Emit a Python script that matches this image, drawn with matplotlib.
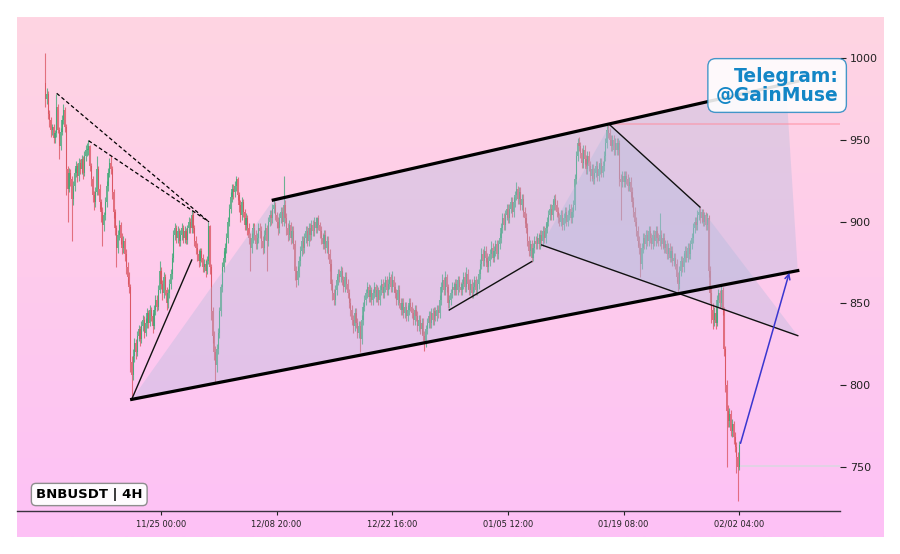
import numpy as np
import pandas as pd
import matplotlib
matplotlib.use("Agg")
import matplotlib.pyplot as plt
from matplotlib.patches import Polygon

# ---------------- data ----------------
symbol_label = "BNBUSDT | 4H"
promo_label = "Telegram:\n@GainMuse"
start_time = "2025-11-11 04:00"
tick_labels = ["11/25 00:00", "12/08 20:00", "12/22 16:00",
               "01/05 12:00", "01/19 08:00", "02/02 04:00"]
y_ticks = [750, 800, 850, 900, 950, 1000]

opens = [
    985, 975, 978, 966, 962, 956, 958, 951, 954, 970,
    956, 946, 955, 962, 968, 958, 932, 920, 930, 926,
    914, 922, 930, 934, 928, 936, 932, 938, 930, 940,
    944, 944, 946, 934, 926, 916, 912, 918, 932, 920,
    912, 906, 898, 904, 912, 922, 930, 936, 932, 918,
    906, 896, 884, 892, 898, 890, 884, 888, 880, 872,
    866, 860, 814, 806, 818, 826, 820, 830, 834, 828,
    836, 840, 832, 838, 844, 838, 846, 842, 836, 846,
    852, 848, 858, 870, 862, 856, 866, 858, 850, 856,
    862, 868, 878, 892, 896, 890, 894, 888, 892, 896,
    890, 894, 889, 896, 900, 896, 904, 896, 888, 884,
    880, 876, 882, 878, 872, 874, 870, 876, 897, 872,
    845, 830, 820, 812, 822, 832, 845, 860, 872, 878,
    884, 890, 900, 908, 915, 920, 918, 922, 926, 916,
    910, 904, 912, 906, 898, 902, 896, 890, 884, 890,
    896, 892, 886, 890, 896, 894, 888, 884, 892, 896,
    888, 900, 904, 902, 908, 910, 904, 900, 896, 902,
    906, 900, 910, 902, 896, 892, 898, 890, 894, 886,
    870, 864, 870, 876, 882, 888, 884, 890, 894, 888,
    896, 892, 898, 894, 900, 896, 902, 898, 894, 890,
    886, 892, 884, 888, 880, 874, 862, 856, 852, 858,
    864, 868, 866, 870, 864, 860, 866, 862, 856, 850,
    846, 840, 836, 844, 838, 832, 836, 828, 840, 848,
    852, 856, 860, 854, 858, 852, 856, 860, 854, 858,
    852, 858, 862, 856, 860, 864, 858, 862, 866, 860,
    864, 860, 856, 852, 858, 850, 846, 850, 844, 848,
    842, 846, 850, 848, 844, 840, 846, 842, 836, 840,
    834, 838, 830, 826, 834, 838, 842, 838, 844, 840,
    845, 842, 846, 844, 852, 860, 864, 858, 866, 860,
    850, 852, 856, 860, 858, 862, 858, 864, 860, 858,
    862, 866, 860, 868, 862, 858, 862, 856, 860, 864,
    858, 862, 868, 874, 880, 876, 882, 878, 872, 876,
    880, 884, 878, 882, 886, 880, 886, 890, 896, 902,
    898, 904, 908, 902, 908, 912, 906, 912, 916, 920,
    914, 918, 910, 914, 906, 902, 896, 888, 882, 886,
    878, 884, 888, 886, 890, 886, 892, 888, 894, 890,
    896, 900, 904, 908, 904, 910, 914, 910, 906, 902,
    900, 904, 898, 902, 906, 900, 904, 908, 902, 906,
    910, 926, 940, 948, 946, 942, 936, 944, 938, 932,
    940, 934, 928, 932, 926, 930, 934, 928, 932, 936,
    930, 934, 940, 948, 956, 954, 950, 946, 950, 944,
    948, 944, 948, 926, 924, 928, 924, 928, 926, 922,
    924, 918, 912, 906, 900, 894, 888, 884, 874, 884,
    890, 886, 892, 888, 894, 890, 886, 892, 888, 894,
    890, 888, 892, 886, 890, 884, 886, 880, 884, 878,
    882, 876, 878, 874, 866, 862, 870, 876, 872, 878,
    882, 878, 884, 880, 886, 890, 896, 900, 898, 904,
    906, 902, 906, 900, 904, 898, 902, 870, 856, 846,
    840, 844, 838, 852, 856, 850, 858, 846, 822, 800,
    784, 778, 782, 772, 776, 768, 762, 756, 750,
]
highs = [
    1003, 982, 980, 968, 964, 960, 960, 956, 978, 972,
    958, 957, 965, 972, 970, 960, 934, 933, 932, 928,
    925, 933, 937, 936, 939, 938, 941, 940, 943, 947,
    948, 950, 947, 936, 928, 919, 921, 940, 934, 923,
    914, 909, 906, 915, 925, 933, 939, 940, 934, 920,
    908, 898, 895, 901, 900, 893, 891, 890, 883, 875,
    869, 862, 818, 822, 829, 828, 833, 837, 836, 839,
    843, 842, 841, 847, 846, 849, 848, 844, 849, 855,
    855, 861, 876, 872, 864, 869, 868, 860, 859, 865,
    871, 881, 895, 899, 898, 897, 896, 895, 899, 898,
    897, 896, 898, 903, 902, 907, 906, 898, 891, 887,
    883, 884, 884, 880, 877, 877, 879, 900, 898, 874,
    848, 833, 824, 825, 835, 848, 862, 875, 882, 887,
    893, 903, 911, 918, 923, 923, 925, 928, 927, 918,
    913, 915, 914, 908, 905, 904, 899, 893, 893, 899,
    899, 895, 893, 899, 899, 897, 891, 895, 899, 898,
    903, 907, 907, 911, 913, 912, 906, 903, 905, 909,
    909, 928, 913, 905, 899, 901, 900, 897, 897, 889,
    873, 873, 879, 885, 891, 891, 893, 897, 897, 899,
    899, 901, 901, 903, 903, 903, 904, 900, 897, 893,
    895, 895, 891, 891, 883, 877, 865, 859, 861, 867,
    871, 871, 873, 872, 867, 869, 869, 865, 859, 853,
    849, 843, 847, 847, 841, 839, 839, 843, 851, 855,
    859, 863, 862, 861, 860, 859, 863, 862, 861, 860,
    861, 865, 865, 863, 867, 867, 865, 869, 868, 870,
    867, 863, 859, 861, 861, 853, 853, 853, 851, 851,
    849, 853, 853, 851, 847, 849, 849, 845, 843, 843,
    841, 841, 833, 837, 841, 845, 845, 847, 847, 848,
    848, 849, 849, 855, 863, 868, 866, 870, 868, 862,
    855, 859, 863, 863, 865, 865, 867, 867, 863, 865,
    869, 869, 872, 871, 865, 865, 865, 863, 867, 867,
    865, 871, 877, 884, 883, 885, 885, 881, 879, 883,
    888, 887, 885, 889, 889, 889, 893, 899, 905, 905,
    907, 911, 911, 911, 915, 915, 915, 919, 924, 922,
    921, 921, 917, 917, 909, 905, 899, 891, 889, 889,
    887, 891, 891, 893, 893, 895, 895, 897, 897, 899,
    903, 907, 911, 911, 913, 916, 917, 913, 909, 905,
    907, 907, 905, 909, 909, 907, 911, 911, 909, 913,
    929, 943, 951, 952, 949, 945, 947, 947, 941, 943,
    943, 937, 935, 935, 933, 937, 937, 935, 939, 939,
    937, 943, 951, 959, 959, 957, 953, 953, 953, 951,
    951, 951, 950, 929, 931, 931, 931, 931, 929, 927,
    927, 921, 915, 909, 903, 897, 891, 887, 887, 893,
    893, 895, 895, 897, 897, 893, 895, 895, 897, 897,
    893, 905, 895, 893, 893, 889, 889, 887, 887, 885,
    885, 881, 881, 877, 869, 873, 879, 879, 881, 885,
    885, 887, 887, 889, 893, 899, 903, 903, 907, 909,
    909, 908, 908, 906, 906, 905, 904, 873, 860, 850,
    848, 847, 855, 859, 858, 861, 860, 848, 824, 803,
    788, 786, 785, 779, 778, 771, 765, 759, 766,
]
lows = [
    970, 972, 963, 958, 952, 953, 948, 948, 952, 954,
    938, 944, 953, 960, 955, 916, 900, 918, 922, 888,
    910, 919, 927, 924, 925, 929, 929, 926, 928, 937,
    940, 941, 931, 922, 912, 907, 909, 916, 916, 908,
    900, 885, 894, 901, 909, 919, 927, 929, 914, 902,
    892, 872, 881, 889, 886, 880, 881, 876, 868, 862,
    856, 808, 791, 803, 814, 816, 818, 827, 824, 826,
    833, 829, 830, 835, 835, 836, 839, 832, 834, 843,
    845, 846, 856, 859, 852, 853, 855, 846, 847, 853,
    859, 865, 875, 889, 887, 887, 885, 885, 889, 887,
    887, 886, 886, 893, 893, 893, 893, 885, 880, 876,
    872, 873, 875, 869, 869, 866, 868, 874, 868, 840,
    826, 815, 801, 808, 819, 829, 842, 857, 869, 875,
    881, 887, 897, 905, 912, 914, 915, 919, 913, 906,
    900, 901, 903, 895, 895, 892, 886, 870, 881, 887,
    889, 883, 883, 887, 890, 884, 880, 881, 889, 870,
    885, 897, 898, 899, 905, 901, 896, 892, 893, 899,
    897, 897, 899, 892, 888, 889, 886, 887, 883, 864,
    860, 861, 866, 873, 879, 880, 881, 887, 885, 885,
    888, 889, 891, 891, 893, 893, 895, 890, 886, 883,
    883, 881, 881, 877, 870, 858, 852, 849, 849, 855,
    861, 863, 863, 861, 857, 857, 859, 853, 847, 842,
    837, 832, 833, 835, 829, 829, 820, 825, 837, 845,
    849, 853, 851, 851, 849, 849, 853, 851, 851, 849,
    849, 855, 853, 853, 857, 855, 855, 859, 857, 857,
    857, 853, 849, 849, 847, 843, 843, 841, 841, 839,
    839, 843, 845, 841, 837, 837, 839, 833, 833, 831,
    831, 827, 821, 823, 831, 835, 835, 835, 837, 837,
    839, 839, 841, 841, 849, 857, 855, 855, 857, 847,
    847, 849, 853, 855, 855, 855, 855, 857, 855, 855,
    859, 857, 857, 859, 855, 855, 853, 853, 857, 855,
    855, 859, 865, 871, 873, 873, 875, 869, 869, 873,
    877, 875, 875, 879, 877, 877, 883, 887, 893, 895,
    895, 901, 899, 899, 905, 903, 903, 909, 913, 911,
    911, 907, 907, 903, 899, 893, 885, 879, 879, 875,
    876, 881, 883, 883, 883, 883, 885, 885, 887, 887,
    893, 897, 901, 901, 901, 907, 907, 903, 899, 897,
    897, 895, 895, 899, 897, 897, 901, 899, 899, 903,
    907, 923, 937, 943, 939, 933, 933, 935, 929, 929,
    931, 925, 925, 923, 923, 927, 925, 925, 929, 927,
    927, 931, 937, 945, 951, 947, 943, 943, 941, 941,
    941, 941, 922, 901, 921, 921, 921, 923, 919, 919,
    915, 909, 903, 897, 891, 885, 880, 866, 871, 881,
    883, 883, 885, 885, 887, 883, 883, 885, 885, 887,
    885, 885, 883, 883, 881, 881, 877, 877, 875, 875,
    873, 873, 871, 863, 857, 859, 867, 869, 869, 875,
    875, 875, 877, 877, 883, 887, 893, 895, 895, 901,
    899, 899, 897, 897, 895, 895, 866, 850, 838, 834,
    836, 834, 836, 848, 847, 848, 843, 818, 796, 750,
    774, 774, 769, 768, 764, 759, 746, 729, 748,
]
closes = [
    975, 978, 966, 962, 956, 958, 951, 954, 970, 956,
    946, 955, 962, 968, 958, 932, 920, 930, 926, 914,
    922, 930, 934, 928, 936, 932, 938, 930, 940, 944,
    944, 946, 934, 926, 916, 912, 918, 932, 920, 912,
    906, 898, 904, 912, 922, 930, 936, 932, 918, 906,
    896, 884, 892, 898, 890, 884, 888, 880, 872, 866,
    860, 814, 806, 818, 826, 820, 830, 834, 828, 836,
    840, 832, 838, 844, 838, 846, 842, 836, 846, 852,
    848, 858, 870, 862, 856, 866, 858, 850, 856, 862,
    868, 878, 892, 896, 890, 894, 888, 892, 896, 890,
    894, 889, 896, 900, 896, 904, 896, 888, 884, 880,
    876, 882, 878, 872, 874, 870, 876, 897, 872, 845,
    830, 820, 812, 822, 832, 845, 860, 872, 878, 884,
    890, 900, 908, 915, 920, 918, 922, 926, 916, 910,
    904, 912, 906, 898, 902, 896, 890, 884, 890, 896,
    892, 886, 890, 896, 894, 888, 884, 892, 896, 888,
    900, 904, 902, 908, 910, 904, 900, 896, 902, 906,
    900, 910, 902, 896, 892, 898, 890, 894, 886, 870,
    864, 870, 876, 882, 888, 884, 890, 894, 888, 896,
    892, 898, 894, 900, 896, 902, 898, 894, 890, 886,
    892, 884, 888, 880, 874, 862, 856, 852, 858, 864,
    868, 866, 870, 864, 860, 866, 862, 856, 850, 846,
    840, 836, 844, 838, 832, 836, 828, 840, 848, 852,
    856, 860, 854, 858, 852, 856, 860, 854, 858, 852,
    858, 862, 856, 860, 864, 858, 862, 866, 860, 864,
    860, 856, 852, 858, 850, 846, 850, 844, 848, 842,
    846, 850, 848, 844, 840, 846, 842, 836, 840, 834,
    838, 830, 826, 834, 838, 842, 838, 844, 840, 845,
    842, 846, 844, 852, 860, 864, 858, 866, 860, 850,
    852, 856, 860, 858, 862, 858, 864, 860, 858, 862,
    866, 860, 868, 862, 858, 862, 856, 860, 864, 858,
    862, 868, 874, 880, 876, 882, 878, 872, 876, 880,
    884, 878, 882, 886, 880, 886, 890, 896, 902, 898,
    904, 908, 902, 908, 912, 906, 912, 916, 920, 914,
    918, 910, 914, 906, 902, 896, 888, 882, 886, 878,
    884, 888, 886, 890, 886, 892, 888, 894, 890, 896,
    900, 904, 908, 904, 910, 914, 910, 906, 902, 900,
    904, 898, 902, 906, 900, 904, 908, 902, 906, 910,
    926, 940, 948, 946, 942, 936, 944, 938, 932, 940,
    934, 928, 932, 926, 930, 934, 928, 932, 936, 930,
    934, 940, 948, 956, 954, 950, 946, 950, 944, 948,
    944, 948, 926, 924, 928, 924, 928, 926, 922, 924,
    918, 912, 906, 900, 894, 888, 884, 874, 884, 890,
    886, 892, 888, 894, 890, 886, 892, 888, 894, 890,
    888, 892, 886, 890, 884, 886, 880, 884, 878, 882,
    876, 878, 874, 866, 862, 870, 876, 872, 878, 882,
    878, 884, 880, 886, 890, 896, 900, 898, 904, 906,
    902, 906, 900, 904, 898, 902, 870, 856, 846, 840,
    844, 838, 852, 856, 850, 858, 846, 822, 800, 784,
    778, 782, 772, 776, 768, 762, 756, 750, 763,
]

# analyst drawings: (candle index, price) pairs
dashed_line_1 = [(8.2, 978.5), (117.5, 899.8)]
dashed_line_2 = [(31.1, 949.5), (117.5, 899.8)]
rise_line_1 = [(62.0, 791.2), (105.1, 876.5)]
rise_line_2 = [(289.9, 845.9), (349.0, 875.5)]
channel_lower = [(62.0, 791.2), (540.0, 870.0)]
channel_upper = [(163.6, 913.2), (540.0, 985.9)]
channel_zone = [(62.0, 791.2), (163.6, 913.2), (531.5, 984.3), (540.0, 870.0)]
fall_top = [(405.2, 959.1), (469.8, 908.9)]
fall_bottom = [(356.2, 885.7), (540.0, 830.2)]
fall_zone = [(356.2, 885.7), (405.2, 959.1), (469.8, 908.9), (540.0, 830.2)]
target_arrow = [(498.9, 764.3), (533.9, 868.7)]
high_level = (404.0, 959.6)
low_level = (498.5, 750.4)

# ---------------- figure ----------------
W, H = 900, 554
fig = plt.figure(figsize=(W / 100, H / 100), dpi=100)
fig.patch.set_facecolor("white")

# gradient panel
bg = fig.add_axes([17 / W, 17 / H, 867 / W, 520 / H], zorder=0)
top_c = np.array([255, 213, 226]) / 255.0
bot_c = np.array([253, 193, 246]) / 255.0
t = np.linspace(0, 1, 256)[:, None, None]
grad = top_c[None, None, :] * (1 - t) + bot_c[None, None, :] * t
bg.imshow(grad, aspect="auto", extent=[0, 1, 0, 1])
bg.set_axis_off()

ax = fig.add_axes([17 / W, 43 / H, 823 / W, 494 / H], zorder=1)
ax.patch.set_alpha(0)

o = np.array(opens, float)
h = np.array(highs, float)
l = np.array(lows, float)
c = np.array(closes, float)
n = len(c)
x = np.arange(n)
times = pd.date_range(start_time, periods=n, freq="4h")

up_col = "#3aa874"
dn_col = "#d9505c"
cols = np.where(c >= o, up_col, dn_col)
ax.vlines(x, l, h, colors=cols, linewidth=0.8, alpha=0.75, zorder=2)
body_h = np.maximum(np.abs(c - o), 0.5)
ax.bar(x, body_h, bottom=np.minimum(o, c), width=0.8, color=cols,
       alpha=0.75, linewidth=0, zorder=2)

zone_col = "#a9b9dc"
ax.add_patch(Polygon(channel_zone, closed=True, facecolor=zone_col,
                     alpha=0.32, edgecolor="none", zorder=3))
ax.add_patch(Polygon(fall_zone, closed=True, facecolor=zone_col,
                     alpha=0.32, edgecolor="none", zorder=3))


def seg(pts, **kw):
    xs, ys = zip(*pts)
    ax.plot(xs, ys, **kw)


seg(dashed_line_1, color="black", lw=0.9, ls=(0, (3, 2)), zorder=4)
seg(dashed_line_2, color="black", lw=0.9, ls=(0, (3, 2)), zorder=4)
seg(rise_line_1, color="#111111", lw=1.0, zorder=4)
seg(rise_line_2, color="#111111", lw=1.0, zorder=4)
seg(fall_top, color="#111111", lw=1.0, zorder=4)
seg(fall_bottom, color="#111111", lw=1.0, zorder=4)
seg(channel_lower, color="black", lw=2.3, zorder=5)
seg(channel_upper, color="black", lw=2.3, zorder=5)

x_left, x_right = -20.3, 570.3
ax.hlines(high_level[1], high_level[0], x_right, color="#ff8a9a",
          lw=1.2, alpha=0.55, zorder=3)
ax.hlines(low_level[1], low_level[0], x_right, color="#d8d8e0",
          lw=1.2, alpha=0.9, zorder=3)

ax.annotate("", xy=target_arrow[1], xytext=target_arrow[0],
            arrowprops=dict(arrowstyle="->", color="#3a36d0", lw=1.1,
                            mutation_scale=9, shrinkA=0, shrinkB=0),
            zorder=6)

ax.set_xlim(x_left, x_right)
ax.set_ylim(722.9, 1025.2)

labels_fmt = times.strftime("%m/%d %H:%M")
tick_pos = [int(np.where(labels_fmt == lab)[0][0]) for lab in tick_labels]
ax.set_xticks(tick_pos)
ax.set_xticklabels(tick_labels)
ax.yaxis.tick_right()
ax.set_yticks(y_ticks)
ax.set_yticklabels([str(v) for v in y_ticks])
ax.tick_params(axis="x", length=3, width=0.8, labelsize=6, pad=3,
               colors="#222222")
ax.tick_params(axis="y", length=4, width=0.8, labelsize=8, pad=3,
               colors="#222222")
for s in ["top", "left", "right"]:
    ax.spines[s].set_visible(False)
ax.spines["bottom"].set_color("#3a3340")
ax.spines["bottom"].set_linewidth(1.0)

fig.text(838.5 / W, 1 - 85.5 / H, promo_label, ha="right", va="center",
         multialignment="right", fontsize=13.5, fontweight="bold",
         color="#1386c6", linespacing=1.0, zorder=10,
         bbox=dict(boxstyle="round,pad=0.42", facecolor="white",
                   edgecolor="#2b8cc4", alpha=0.88, linewidth=1.0))

fig.text(36 / W, 1 - 494.5 / H, symbol_label, ha="left", va="center",
         fontsize=9.5, fontweight="bold", color="black", zorder=10,
         bbox=dict(boxstyle="round,pad=0.35", facecolor="white",
                   edgecolor="#888888", alpha=0.95, linewidth=1.0))

fig.savefig("out.png", dpi=100, facecolor="white")
